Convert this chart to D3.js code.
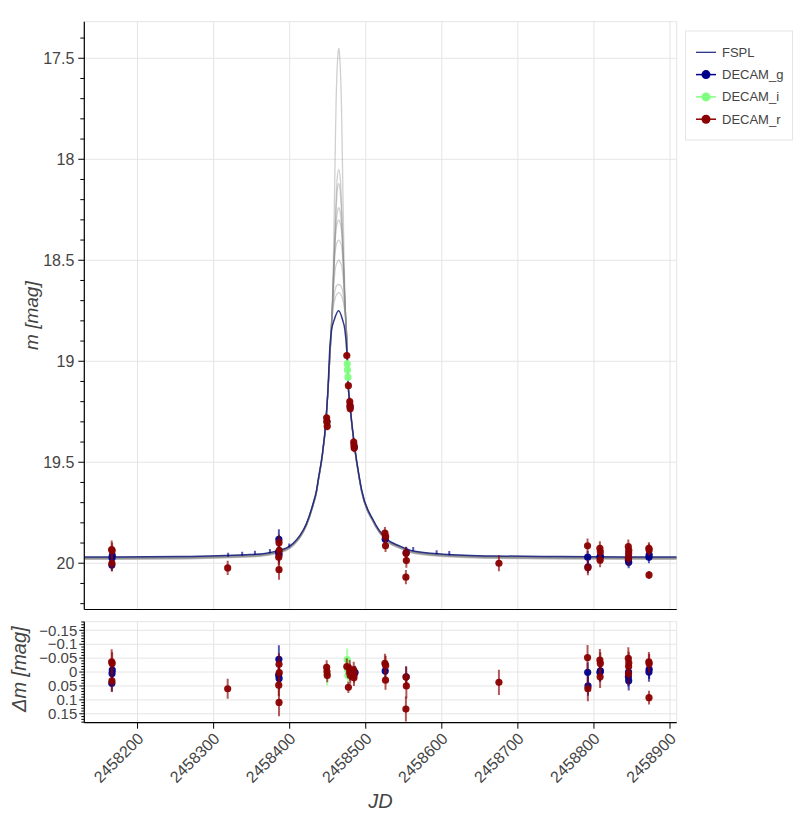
<!DOCTYPE html>
<html><head><meta charset="utf-8">
<script src="https://cdn.jsdelivr.net/npm/d3@7"></script>
<style>
body{margin:0;background:#fff}
svg{display:block}
text{font-family:"Liberation Sans",Arial,Helvetica,sans-serif}
</style>
</head><body>
<svg id="chart" width="805" height="829"></svg>
<script>
// ---------------- data ----------------
const xTicks = [2458200, 2458300, 2458400, 2458500, 2458600, 2458700, 2458800, 2458900];
const magTicks = [17.5, 18, 18.5, 19, 19.5, 20];
const magTickLabels = ["17.5", "18", "18.5", "19", "19.5", "20"];
const residTicks = [-0.15, -0.1, -0.05, 0, 0.05, 0.1, 0.15];
const residTickLabels = ["\u22120.15", "\u22120.1", "\u22120.05", "0", "0.05", "0.1", "0.15"];
const legendLabels = ["FSPL", "DECAM_g", "DECAM_i", "DECAM_r"];

// best FSPL model curve [JD, mag]
const modelCurve = [
  [2458130, 19.969], [2458167.9, 19.969], [2458255.6, 19.967], [2458343.3, 19.958],
  [2458369.6, 19.950], [2458387.1, 19.935], [2458396.0, 19.924], [2458404.6, 19.901],
  [2458414.0, 19.860], [2458422.2, 19.802], [2458430.9, 19.703], [2458435.4, 19.637],
  [2458437.5, 19.587], [2458442.8, 19.464], [2458447.6, 19.296], [2458450.3, 19.142],
  [2458452.9, 18.928], [2458455.1, 18.845], [2458458.5, 18.796], [2458464.3, 18.750],
  [2458469.6, 18.796], [2458472.6, 18.845], [2458475.0, 18.944], [2458477.0, 19.117],
  [2458479.5, 19.225], [2458485.1, 19.414], [2458491.4, 19.571], [2458494.6, 19.637],
  [2458509.8, 19.786], [2458527.5, 19.880], [2458545.0, 19.915], [2458562.4, 19.939],
  [2458601.9, 19.955], [2458667.6, 19.964], [2458755.4, 19.967], [2458877.7, 19.969],
  [2458908.8, 19.969]
];

// posterior sample curves near the peak: [days from 2458464.5, mag]
const sampleCenter = 2458464.5;
const samplePeaks = [
  [[-11,18.93],[-8.4,18.71],[-7,18.5],[-4.8,18.0],[-3.5,17.72],[-2.2,17.56],[-0.8,17.47],[0,17.45],[0.8,17.47],[2.2,17.56],[3.5,17.72],[4.8,18.0],[7,18.5],[8.4,18.71],[11,18.93]],
  [[-11,18.93],[-8.2,18.7],[-6.3,18.5],[-4,18.25],[-2.2,18.1],[0,18.05],[2.2,18.1],[4,18.25],[6.3,18.5],[8.2,18.7],[11,18.93]],
  [[-11,18.94],[-8,18.7],[-6,18.5],[-3.5,18.25],[-1.8,18.15],[0,18.12],[1.8,18.15],[3.5,18.25],[6,18.5],[8,18.7],[11,18.94]],
  [[-11,18.92],[-8,18.7],[-6,18.5],[-3.5,18.32],[-1.8,18.26],[0,18.24],[1.8,18.26],[3.5,18.32],[6,18.5],[8,18.7],[11,18.92]],
  [[-11,18.93],[-8,18.7],[-6,18.5],[-3.5,18.35],[-1.5,18.31],[0,18.30],[1.5,18.31],[3.5,18.35],[6,18.5],[8,18.7],[11,18.93]],
  [[-11,18.93],[-8,18.7],[-5.5,18.5],[-3,18.42],[0,18.40],[3,18.42],[5.5,18.5],[8,18.7],[11,18.93]],
  [[-11,18.93],[-7.8,18.7],[-4.5,18.54],[-2,18.51],[0,18.50],[2,18.51],[4.5,18.54],[7.8,18.7],[11,18.93]],
  [[-11,18.94],[-8,18.75],[-5,18.65],[-2.5,18.625],[0,18.62],[2.5,18.625],[5,18.65],[8,18.75],[11,18.94]],
  [[-11,18.93],[-7.5,18.74],[-4,18.68],[0,18.66],[4,18.68],[7.5,18.74],[11,18.93]]
];
const sampleShift = [0.004, 0.008, 0.002, 0.010, 0.006, 0.003, 0.012, 0.007, 0.005];

// observations [JD, mag, err]
const obsG = [
  [2458166.5, 19.974, 0.035], [2458166.8, 19.962, 0.03], [2458166.2, 20.009, 0.03],
  [2458385.8, 19.882, 0.05], [2458386.1, 19.957, 0.04], [2458385.5, 19.945, 0.03],
  [2458449.1, 19.300, 0.02], [2458479.5, 19.225, 0.02], [2458485.0, 19.425, 0.02],
  [2458525.6, 19.881, 0.025], [2458553.2, 19.948, 0.03],
  [2458791.8, 19.970, 0.03], [2458792.2, 20.018, 0.03],
  [2458807.9, 19.970, 0.03], [2458808.5, 19.965, 0.03],
  [2458845.3, 19.985, 0.03], [2458845.7, 19.995, 0.03], [2458845.5, 19.969, 0.03],
  [2458872.3, 19.970, 0.03], [2458872.6, 19.958, 0.03]
];
// tiny g-band measurements seen only as short bars on the curve
const obsGsmall = [
  [2458319.1, 19.958, 0.01], [2458337.6, 19.953, 0.01], [2458354.3, 19.948, 0.01],
  [2458374.0, 19.940, 0.01], [2458399.4, 19.912, 0.01], [2458562.4, 19.930, 0.01],
  [2458593.2, 19.946, 0.01], [2458609.8, 19.950, 0.01]
];
const obsI = [
  [2458449.2, 19.310, 0.02],
  [2458475.6, 19.013, 0.02], [2458476.0, 19.043, 0.02], [2458476.6, 19.079, 0.02]
];
const obsR = [
  [2458166.0, 19.932, 0.045], [2458166.6, 19.938, 0.04], [2458166.3, 20.001, 0.04],
  [2458318.5, 20.023, 0.035],
  [2458386.0, 19.898, 0.04], [2458386.3, 19.936, 0.035], [2458385.6, 19.970, 0.04], [2458386.0, 20.032, 0.05],
  [2458448.6, 19.280, 0.02], [2458449.0, 19.300, 0.02], [2458449.4, 19.322, 0.02],
  [2458475.1, 18.972, 0.015], [2458477.2, 19.121, 0.015],
  [2458479.0, 19.200, 0.02], [2458479.3, 19.220, 0.02], [2458479.6, 19.235, 0.02],
  [2458484.2, 19.400, 0.02], [2458484.5, 19.415, 0.02], [2458484.8, 19.430, 0.02],
  [2458525.2, 19.851, 0.03], [2458526.2, 19.868, 0.03], [2458526.0, 19.914, 0.03],
  [2458553.0, 19.950, 0.03], [2458553.4, 19.987, 0.035], [2458552.8, 20.069, 0.035],
  [2458675.1, 20.000, 0.04],
  [2458791.6, 19.914, 0.037], [2458792.0, 20.022, 0.037],
  [2458807.8, 19.926, 0.035], [2458808.4, 19.943, 0.035], [2458808.1, 19.985, 0.035],
  [2458845.2, 19.918, 0.035], [2458845.8, 19.936, 0.035], [2458845.6, 19.950, 0.035], [2458845.4, 19.975, 0.035],
  [2458872.2, 19.926, 0.03], [2458872.6, 19.934, 0.03], [2458872.4, 20.058, 0.02]
];

// residuals [JD, dm, err]
const residG = [
  [2458166.5, 0.005, 0.035], [2458166.8, -0.007, 0.03], [2458166.2, 0.040, 0.03],
  [2458385.8, -0.046, 0.05], [2458386.1, 0.023, 0.04], [2458385.5, 0.011, 0.03],
  [2458479.5, 0.003, 0.025], [2458486.0, 0.002, 0.025],
  [2458525.6, -0.004, 0.03], [2458553.2, 0.017, 0.035],
  [2458791.8, 0.001, 0.035], [2458792.2, 0.050, 0.035],
  [2458807.9, 0.001, 0.035], [2458808.5, -0.004, 0.035],
  [2458845.3, 0.017, 0.035], [2458845.7, 0.031, 0.035], [2458845.5, 0.000, 0.035],
  [2458872.3, 0.000, 0.035], [2458872.6, -0.010, 0.035]
];
const residI = [
  [2458449.2, 0.008, 0.04],
  [2458475.6, -0.045, 0.04], [2458476.0, -0.010, 0.03], [2458476.6, 0.012, 0.03]
];
const residR = [
  [2458166.0, -0.037, 0.045], [2458166.6, -0.031, 0.04], [2458166.3, 0.032, 0.04],
  [2458318.5, 0.060, 0.036],
  [2458386.0, -0.028, 0.04], [2458386.3, 0.002, 0.035], [2458385.6, 0.047, 0.04], [2458386.0, 0.109, 0.05],
  [2458448.6, -0.017, 0.025], [2458449.0, -0.002, 0.025], [2458449.4, 0.012, 0.025],
  [2458475.1, -0.020, 0.03], [2458477.2, 0.055, 0.02],
  [2458479.0, -0.012, 0.03], [2458479.3, 0.000, 0.03], [2458479.6, 0.012, 0.03],
  [2458484.2, -0.007, 0.03], [2458484.5, 0.020, 0.03], [2458484.8, 0.008, 0.03],
  [2458525.2, -0.031, 0.035], [2458526.2, -0.024, 0.035], [2458526.0, 0.029, 0.035],
  [2458553.0, 0.018, 0.04], [2458553.4, 0.050, 0.045], [2458552.8, 0.133, 0.045],
  [2458675.1, 0.037, 0.045],
  [2458791.6, -0.052, 0.045], [2458792.0, 0.060, 0.045],
  [2458807.8, -0.043, 0.04], [2458808.4, -0.031, 0.04], [2458808.1, 0.017, 0.04],
  [2458845.2, -0.049, 0.04], [2458845.8, -0.033, 0.04], [2458845.6, -0.020, 0.04], [2458845.4, 0.006, 0.04],
  [2458872.2, -0.037, 0.035], [2458872.6, -0.030, 0.035], [2458872.4, 0.092, 0.025]
];

(function () {
// ---------------- styles / layout ----------------
const colG = "#00008b", colI = "#7fff7f", colR = "#8b0000", colModel = "#1a237e";
const L = 84.3, R = 676.7;
const topY0 = 21.7, topY1 = 609.5;
const resY0 = 621.7, resY1 = 722.7;
const gridCol = "#e5e5e5", textCol = "#444";

const svg = d3.select("#chart");
const x = d3.scaleLinear().domain([2458130, 2458908.8]).range([L, R]);
const y = d3.scaleLinear().domain([17.319, 20.229]).range([topY0, topY1]);
const yr = d3.scaleLinear().domain([-0.181, 0.182]).range([resY0, resY1]);

function panel(yScale, yTicksMajor, y0, y1) {
  const g = svg.append("g");
  g.append("rect").attr("x", L).attr("y", y0).attr("width", R - L).attr("height", y1 - y0)
    .attr("fill", "#fff").attr("stroke", gridCol).attr("stroke-width", 1);
  g.append("g").selectAll("line").data(xTicks).join("line")
    .attr("x1", d => x(d)).attr("x2", d => x(d)).attr("y1", y0).attr("y2", y1)
    .attr("stroke", gridCol).attr("stroke-width", 1);
  g.append("g").selectAll("line").data(yTicksMajor).join("line")
    .attr("x1", L).attr("x2", R).attr("y1", d => yScale(d)).attr("y2", d => yScale(d))
    .attr("stroke", gridCol).attr("stroke-width", 1);
  return g;
}

panel(y, magTicks, topY0, topY1);
panel(yr, residTicks, resY0, resY1);

const defs = svg.append("defs");
defs.append("clipPath").attr("id", "clipTop").append("rect")
  .attr("x", L).attr("y", topY0).attr("width", R - L).attr("height", topY1 - topY0);
defs.append("clipPath").attr("id", "clipRes").append("rect")
  .attr("x", L).attr("y", resY0).attr("width", R - L).attr("height", resY1 - resY0);

const topG = svg.append("g").attr("clip-path", "url(#clipTop)");
const lineGen = d3.line().x(d => x(d[0])).y(d => y(d[1])).curve(d3.curveMonotoneX);

samplePeaks.forEach((pk, i) => {
  const peak = pk.map(d => [sampleCenter + d[0], d[1]]);
  const lo = peak[0][0], hi = peak[peak.length - 1][0];
  const left = modelCurve.filter(d => d[0] < lo - 1).map(d => [d[0], d[1] + sampleShift[i]]);
  const right = modelCurve.filter(d => d[0] > hi + 1).map(d => [d[0], d[1] + sampleShift[i]]);
  topG.append("path").datum(left.concat(peak, right))
    .attr("d", lineGen).attr("fill", "none")
    .attr("stroke", "#8a8a8a").attr("stroke-opacity", 0.4).attr("stroke-width", 1.3);
});

topG.append("path").datum(modelCurve).attr("d", lineGen).attr("fill", "none")
  .attr("stroke", colModel).attr("stroke-opacity", 0.9).attr("stroke-width", 1.5);

function drawObs(g, data, col, yScale, r, withMarker) {
  g.append("g").selectAll("line").data(data).join("line")
    .attr("x1", d => x(d[0])).attr("x2", d => x(d[0]))
    .attr("y1", d => yScale(d[1] - d[2])).attr("y2", d => yScale(d[1] + d[2]))
    .attr("stroke", col).attr("stroke-opacity", 0.65).attr("stroke-width", 2);
  if (withMarker) {
    g.append("g").selectAll("circle").data(data).join("circle")
      .attr("cx", d => x(d[0])).attr("cy", d => yScale(d[1])).attr("r", r)
      .attr("fill", col).attr("fill-opacity", 0.95);
  }
}

drawObs(topG, obsGsmall, colG, y, 0, false);
drawObs(topG, obsG, colG, y, 3.6, true);
drawObs(topG, obsI, colI, y, 3.6, true);
drawObs(topG, obsR, colR, y, 3.6, true);

const resG = svg.append("g").attr("clip-path", "url(#clipRes)");
drawObs(resG, residG, colG, yr, 3.6, true);
drawObs(resG, residI, colI, yr, 3.6, true);
drawObs(resG, residR, colR, yr, 3.6, true);

// ---------------- axes ----------------
const ax = svg.append("g").attr("stroke", "#000").attr("stroke-width", 1.2);
ax.append("line").attr("x1", L).attr("x2", L).attr("y1", topY0).attr("y2", topY1);
ax.append("line").attr("x1", L).attr("x2", R).attr("y1", topY1).attr("y2", topY1);
const magMinor = d3.range(17.4, 20.25, 0.1).filter(v => magTicks.every(t => Math.abs(t - v) > 1e-6));
ax.append("g").selectAll("line").data(magMinor).join("line")
  .attr("x1", L - 4).attr("x2", L).attr("y1", d => y(d)).attr("y2", d => y(d)).attr("stroke-width", 1);
ax.append("g").selectAll("line").data(magTicks).join("line")
  .attr("x1", L - 6).attr("x2", L).attr("y1", d => y(d)).attr("y2", d => y(d)).attr("stroke-width", 1);

ax.append("line").attr("x1", L).attr("x2", L).attr("y1", resY0).attr("y2", resY1);
ax.append("line").attr("x1", L).attr("x2", R).attr("y1", resY1).attr("y2", resY1);
const resMinor = d3.range(-0.18, 0.185, 0.01).filter(v => residTicks.every(t => Math.abs(t - v) > 1e-6));
ax.append("g").selectAll("line").data(resMinor).join("line")
  .attr("x1", L - 3).attr("x2", L).attr("y1", d => yr(d)).attr("y2", d => yr(d)).attr("stroke-width", 1);
ax.append("g").selectAll("line").data(residTicks).join("line")
  .attr("x1", L - 5).attr("x2", L).attr("y1", d => yr(d)).attr("y2", d => yr(d)).attr("stroke-width", 1);
ax.append("g").selectAll("line").data(xTicks).join("line")
  .attr("x1", d => x(d)).attr("x2", d => x(d)).attr("y1", resY1).attr("y2", resY1 + 6).attr("stroke-width", 1);

svg.append("g").selectAll("text").data(magTicks).join("text")
  .attr("x", L - 10).attr("y", d => y(d)).attr("dy", "0.35em")
  .attr("text-anchor", "end").attr("font-size", 16).attr("fill", textCol)
  .text((d, i) => magTickLabels[i]);
svg.append("g").selectAll("text").data(residTicks).join("text")
  .attr("x", L - 7).attr("y", d => yr(d)).attr("dy", "0.35em")
  .attr("text-anchor", "end").attr("font-size", 15).attr("fill", textCol)
  .text((d, i) => residTickLabels[i]);
svg.append("g").selectAll("text").data(xTicks).join("text")
  .attr("transform", d => `translate(${x(d) + 3},${resY1 + 13}) rotate(-45)`)
  .attr("dy", "0.35em").attr("text-anchor", "end").attr("font-size", 16).attr("fill", textCol)
  .text(d => d3.format("d")(d));

svg.append("text").attr("transform", `translate(31,${(topY0 + topY1) / 2}) rotate(-90)`)
  .attr("text-anchor", "middle").attr("dy", "0.35em")
  .attr("font-size", 19).attr("font-style", "italic").attr("fill", textCol).text("m [mag]");
svg.append("text").attr("transform", `translate(19,${(resY0 + resY1) / 2 - 3}) rotate(-90)`)
  .attr("text-anchor", "middle").attr("dy", "0.35em")
  .attr("font-size", 20).attr("font-style", "italic").attr("fill", textCol).text("\u0394m [mag]");
svg.append("text").attr("x", (L + R) / 2).attr("y", 808)
  .attr("text-anchor", "middle")
  .attr("font-size", 20).attr("font-style", "italic").attr("fill", textCol).text("JD");

const lg = svg.append("g");
lg.append("rect").attr("x", 685.5).attr("y", 31).attr("width", 107).attr("height", 109)
  .attr("fill", "#fff").attr("stroke", gridCol).attr("stroke-width", 1);
const legendCols = [colModel, colG, colI, colR];
legendLabels.forEach((lab, i) => {
  const yy = 52.3 + i * 22.3;
  lg.append("line").attr("x1", 696).attr("x2", 716).attr("y1", yy).attr("y2", yy)
    .attr("stroke", legendCols[i]).attr("stroke-width", i === 0 ? 1.2 : 1.5);
  if (i > 0) lg.append("circle").attr("cx", 706).attr("cy", yy).attr("r", 4.5).attr("fill", legendCols[i]);
  lg.append("text").attr("x", 722).attr("y", yy).attr("dy", "0.35em")
    .attr("font-size", 13).attr("fill", textCol).text(lab);
});
})();
</script>
</body></html>
